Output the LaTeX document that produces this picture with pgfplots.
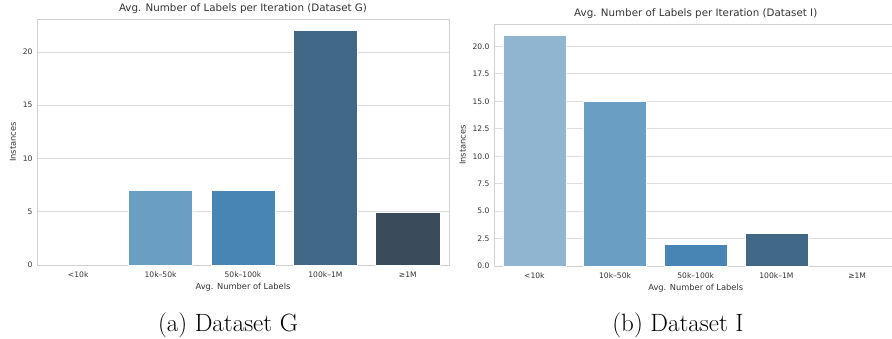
\documentclass[border=0pt]{standalone}
\usepackage{fontspec}
\usepackage{pgfplots}
\pgfplotsset{compat=1.18}
\newfontfamily\dejavu{DejaVu Sans}
\definecolor{cA}{HTML}{90B5D0}
\definecolor{cB}{HTML}{6A9EC2}
\definecolor{cC}{HTML}{4884B4}
\definecolor{cD}{HTML}{416886}
\definecolor{cE}{HTML}{3A4B5C}
\definecolor{spine}{HTML}{D0D0D0}
\definecolor{gridc}{HTML}{DEDEDE}
\definecolor{txt}{HTML}{333333}
\pgfplotsset{
  sb/.style={
    scale only axis,
    xmin=-0.5, xmax=4.5, ymin=0,
    xtick={0,1,2,3,4},
    xticklabels={{<10k},{10k–50k},{50k–100k},{100k–1M},{≥1M}},
    major tick length=0pt,
    axis line style={spine, line width=0.9pt},
    ymajorgrids, grid style={gridc, line width=0.9pt},
    tick label style={font=\dejavu\fontsize{7.6}{8.5}\selectfont, text=txt},
    label style={font=\dejavu\fontsize{8.3}{9.5}\selectfont, text=txt},
    title style={font=\dejavu\fontsize{10.3}{12}\selectfont, text=txt, yshift=-4pt},
    /pgf/number format/assume math mode=true,
    xlabel={Avg. Number of Labels}, ylabel={Instances},
    xlabel style={yshift=1.5pt},
    ylabel style={yshift=0pt},
    xticklabel style={yshift=-3.5pt},
    yticklabel style={xshift=-1pt},
  },
  br/.style={ybar, bar shift=0pt, bar width=0.78, draw=white, line width=0.5pt, fill=#1},
}
\begin{document}
\begin{tikzpicture}
\useasboundingbox (0pt,0pt) rectangle (892pt,-338pt);
\clip (0pt,0pt) rectangle (892pt,-338pt);
\begin{axis}[sb, at={(37pt,-265pt)}, anchor=south west, width=412pt, height=246pt,
  ymax=23.1, ytick={0,5,10,15,20},
  title={Avg. Number of Labels per Iteration (Dataset G)}]
\addplot[br=cB] coordinates {(1,7)};
\addplot[br=cC] coordinates {(2,7)};
\addplot[br=cD] coordinates {(3,22)};
\addplot[br=cE] coordinates {(4,5)};
\end{axis}
\begin{axis}[sb, at={(494pt,-266pt)}, anchor=south west, width=403.5pt, height=242pt,
  ymax=22.05, ytick={0,2.5,...,20},
  yticklabel style={/pgf/number format/.cd, fixed, fixed zerofill, precision=1},
  title={Avg. Number of Labels per Iteration (Dataset I)}]
\addplot[br=cA] coordinates {(0,21)};
\addplot[br=cB] coordinates {(1,15)};
\addplot[br=cC] coordinates {(2,2)};
\addplot[br=cD] coordinates {(3,3)};
\end{axis}
\node[font=\fontsize{25}{28}\selectfont] at (228pt,-325pt) {(a) Dataset G};
\node[font=\fontsize{25}{28}\selectfont] at (678pt,-325pt) {(b) Dataset I};
\end{tikzpicture}
\end{document}
